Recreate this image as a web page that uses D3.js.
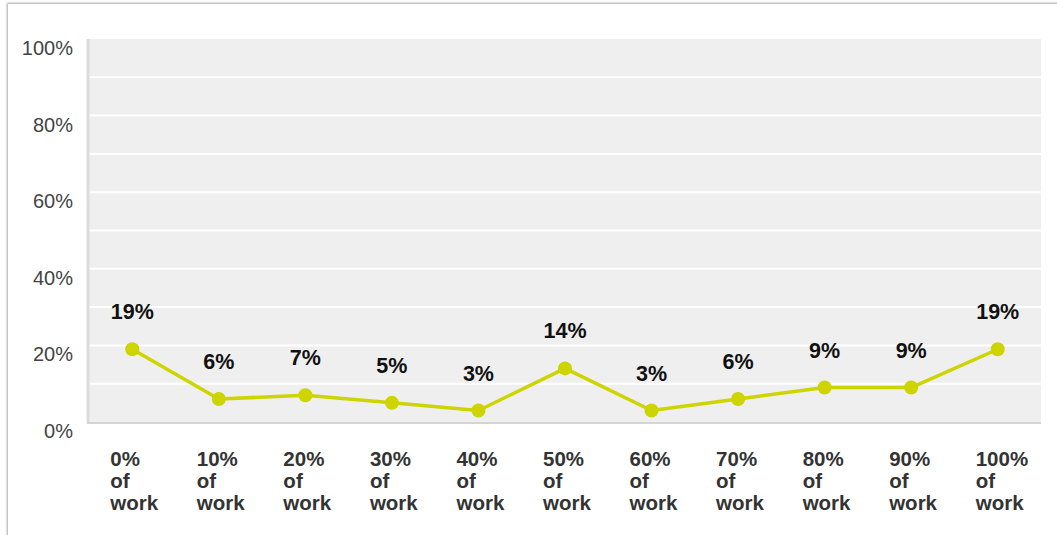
<!DOCTYPE html>
<html>
<head>
<meta charset="utf-8">
<script src="https://cdn.jsdelivr.net/npm/d3@7"></script>
<style>
  html, body { margin: 0; padding: 0; background: #fff; }
  body { width: 1057px; height: 535px; overflow: hidden; }
  svg { display: block; font-family: "Liberation Sans", Arial, Helvetica, sans-serif; }
</style>
</head>
<body>
<svg id="chart" width="1057" height="535"></svg>
<script>
// Share of work completed vs. share of respondents
const categories = ["0%", "10%", "20%", "30%", "40%", "50%", "60%", "70%", "80%", "90%", "100%"];
const values = [19, 6, 7, 5, 3, 14, 3, 6, 9, 9, 19];
const yTickValues = [0, 20, 40, 60, 80, 100];
const gridValues = [10, 20, 30, 40, 50, 60, 70, 80, 90];

const svg = d3.select("#chart");
const W = 1057, H = 535;

// card with soft shadow edges on the left and top
const defs = svg.append("defs");
const f = defs.append("filter").attr("id", "cardShadow")
  .attr("x", "-5%").attr("y", "-5%").attr("width", "110%").attr("height", "110%");
f.append("feDropShadow").attr("dx", -1).attr("dy", -1).attr("stdDeviation", 1.2)
  .attr("flood-color", "#000").attr("flood-opacity", 0.35);
svg.append("rect")
  .attr("x", 8).attr("y", 4).attr("width", W + 20).attr("height", H + 20)
  .attr("fill", "#fff").attr("filter", "url(#cardShadow)");

const plot = { left: 89, right: 1041, top: 39, bottom: 422 };

const x = d3.scalePoint()
  .domain(categories)
  .range([plot.left, plot.right])
  .padding(0.5);

const y = d3.scaleLinear()
  .domain([0, 100])
  .range([plot.bottom, plot.top]);

// plot background
svg.append("rect")
  .attr("x", plot.left).attr("y", plot.top)
  .attr("width", plot.right - plot.left).attr("height", plot.bottom - plot.top)
  .attr("fill", "#efefef");

// white gridlines
svg.append("g")
  .selectAll("line")
  .data(gridValues)
  .join("line")
  .attr("x1", plot.left).attr("x2", plot.right)
  .attr("y1", d => y(d)).attr("y2", d => y(d))
  .attr("stroke", "#fff").attr("stroke-width", 2);

// left and bottom frame
svg.append("line")
  .attr("x1", plot.left - 1).attr("x2", plot.left - 1)
  .attr("y1", plot.top).attr("y2", plot.bottom + 1)
  .attr("stroke", "#dcdcdc").attr("stroke-width", 3);
svg.append("line")
  .attr("x1", plot.left - 2).attr("x2", plot.right)
  .attr("y1", plot.bottom + 1).attr("y2", plot.bottom + 1)
  .attr("stroke", "#d4d4d4").attr("stroke-width", 2);

// y axis labels
const yAxis = d3.axisLeft(y)
  .tickValues(yTickValues)
  .tickFormat(d => d + "%")
  .tickSize(0)
  .tickPadding(0);
const yg = svg.append("g")
  .attr("transform", `translate(${73},${9})`)
  .call(yAxis);
yg.select(".domain").remove();
yg.selectAll("text")
  .attr("fill", "#444")
  .attr("font-size", 20)
  .attr("font-family", "Liberation Sans, Arial, sans-serif");

// x axis labels: three stacked lines, left-aligned
const xg = svg.append("g");
const xl = xg.selectAll("text")
  .data(categories)
  .join("text")
  .attr("x", d => x(d) - 22)
  .attr("y", 466)
  .attr("fill", "#333")
  .attr("font-size", 20.5)
  .attr("font-weight", "bold");
xl.append("tspan").attr("x", d => x(d) - 22).attr("dy", 0).text(d => d);
xl.append("tspan").attr("x", d => x(d) - 22).attr("dy", 22).text("of");
xl.append("tspan").attr("x", d => x(d) - 22).attr("dy", 22).text("work");

const data = categories.map((c, i) => ({ c, v: values[i] }));

// series line
const line = d3.line().x(d => x(d.c)).y(d => y(d.v));
svg.append("path")
  .datum(data)
  .attr("d", line)
  .attr("fill", "none")
  .attr("stroke", "#cdd400")
  .attr("stroke-width", 3.5)
  .attr("stroke-linejoin", "round");

// markers
svg.append("g")
  .selectAll("circle")
  .data(data)
  .join("circle")
  .attr("cx", d => x(d.c))
  .attr("cy", d => y(d.v))
  .attr("r", 7)
  .attr("fill", "#cdd400");

// value labels
svg.append("g")
  .selectAll("text")
  .data(data)
  .join("text")
  .attr("x", d => x(d.c))
  .attr("y", d => y(d.v) - 30)
  .attr("text-anchor", "middle")
  .attr("fill", "#111")
  .attr("font-size", 21.5)
  .attr("font-weight", "bold")
  .text(d => d.v + "%");
</script>
</body>
</html>
